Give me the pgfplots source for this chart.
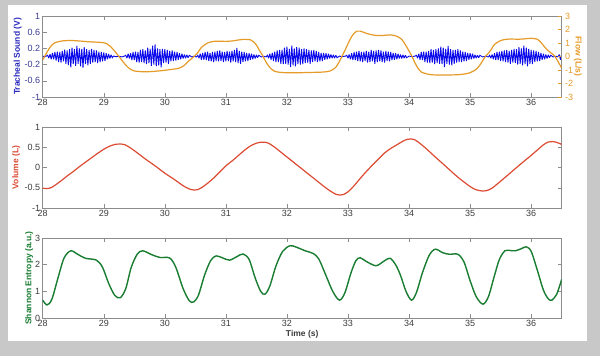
\documentclass[border=0pt]{standalone}
\usepackage{pgfplots}
\pgfplotsset{compat=1.18}
\usepackage{fontspec}
\setmainfont{Liberation Sans}
\definecolor{bggray}{RGB}{200,200,200}
\definecolor{axisgray}{RGB}{140,140,140}
\definecolor{ticktext}{RGB}{60,60,60}
\definecolor{soundblue}{RGB}{10,10,235}
\definecolor{soundlab}{RGB}{40,40,190}
\definecolor{soundtick}{RGB}{60,60,150}
\definecolor{flowc}{RGB}{230,155,40}
\definecolor{volc}{RGB}{220,75,50}
\definecolor{entc}{RGB}{25,125,50}
\pgfplotsset{
  mystyle/.style={
    scale only axis, width=519pt, height=81pt,
    xmin=28, xmax=36.5,
    xtick={28,29,30,31,32,33,34,35,36},
    xticklabels={28,29,30,31,32,33,34,35,36},
    tick align=inside, major tick length=4pt,
    xtick pos=both,
    axis line style={draw=axisgray, line width=0.5pt},
    every tick/.style={draw=axisgray, line width=0.5pt},
    tick label style={font=\fontsize{9}{10}\selectfont, text=ticktext},
    xticklabel style={yshift=1.5pt},
    yticklabel style={xshift=1pt},
    ylabel style={font=\bfseries\fontsize{8.5}{10}\selectfont, anchor=center},
    /pgf/number format/assume math mode=true,
  }
}
\begin{document}
\begin{tikzpicture}
\path[use as bounding box] (0,0) rectangle (600pt,-356pt);
\fill[bggray] (0,0) rectangle (600pt,-356pt);
\fill[white] (8pt,-5pt) rectangle (587pt,-341pt);

% ---------------- Panel 1: tracheal sound (left)
\begin{axis}[mystyle, at={(42.7pt,-97pt)}, anchor=south west,
  ymin=-1, ymax=1,
  ytick={-1,-0.6,-0.2,0.2,0.6,1},
  yticklabels={-1,-0.6,-0.2,0.2,0.6,1},
  ytick pos=left,
  yticklabel style={text=soundtick},
  ylabel={Tracheal Sound (V)},
  ylabel style={at={(axis description cs:-0.048,0.5)}, text=soundlab},
]
\addplot[color=soundblue, line width=0.9pt, line join=miter, miter limit=2] coordinates {
(28.00,0.01)(28.03,-0.01)(28.06,0.01)
(28.08,0.03)(28.10,-0.04)(28.12,0.06)(28.14,-0.07)(28.16,0.09)(28.18,-0.07)(28.20,0.11)(28.22,-0.1)(28.24,0.12)(28.26,-0.14)(28.28,0.11)(28.30,-0.15)(28.32,0.14)(28.34,-0.12)(28.36,0.17)(28.38,-0.18)(28.40,0.15)(28.42,-0.21)(28.44,0.18)(28.46,-0.27)(28.48,0.22)(28.50,-0.19)(28.52,0.18)(28.54,-0.23)(28.56,0.26)(28.58,-0.18)(28.60,0.2)(28.62,-0.24)(28.64,0.19)(28.66,-0.28)(28.68,0.23)(28.70,-0.19)(28.72,0.18)(28.74,-0.22)(28.76,0.16)(28.78,-0.18)(28.80,0.19)(28.82,-0.15)(28.84,0.16)(28.86,-0.14)(28.88,0.15)(28.90,-0.16)(28.92,0.12)(28.94,-0.14)(28.96,0.11)(28.98,-0.12)(29.00,0.1)(29.02,-0.11)(29.04,0.08)(29.06,-0.07)(29.08,0.06)(29.10,-0.05)(29.12,0.04)(29.14,-0.03)
(29.16,0.01)(29.20,-0.005)(29.25,0.005)(29.30,-0.01)(29.34,0.01)
(29.36,0.03)(29.38,-0.04)(29.40,0.07)(29.42,-0.05)(29.44,0.08)(29.46,-0.09)(29.48,0.11)(29.50,-0.09)(29.52,0.12)(29.54,-0.14)(29.56,0.11)(29.58,-0.15)(29.60,0.16)(29.62,-0.14)(29.64,0.18)(29.66,-0.16)(29.68,0.15)(29.70,-0.19)(29.72,0.22)(29.74,-0.16)(29.76,0.19)(29.78,-0.23)(29.80,0.27)(29.82,-0.2)(29.84,0.3)(29.86,-0.24)(29.88,0.2)(29.90,-0.22)(29.92,0.18)(29.94,-0.27)(29.96,0.19)(29.98,-0.16)(30.00,0.18)(30.02,-0.15)(30.04,0.16)(30.06,-0.18)(30.08,0.14)(30.10,-0.12)(30.12,0.15)(30.14,-0.11)(30.16,0.12)(30.18,-0.1)(30.20,0.11)(30.22,-0.08)(30.24,0.08)(30.26,-0.07)(30.28,0.07)(30.30,-0.05)(30.32,0.05)(30.34,-0.04)(30.36,0.04)(30.38,-0.03)(30.40,0.03)
(30.44,-0.01)(30.48,0.005)(30.52,-0.01)
(30.54,0.03)(30.56,-0.04)(30.58,0.07)(30.60,-0.08)(30.62,0.09)(30.64,-0.08)(30.66,0.11)(30.68,-0.09)(30.70,0.12)(30.72,-0.11)(30.74,0.09)(30.76,-0.12)(30.78,0.11)(30.80,-0.14)(30.82,0.12)(30.84,-0.11)(30.86,0.14)(30.88,-0.12)(30.90,0.15)(30.92,-0.11)(30.94,0.12)(30.96,-0.14)(30.98,0.11)(31.00,-0.12)(31.02,0.14)(31.04,-0.11)(31.06,0.12)(31.08,-0.15)(31.10,0.14)(31.12,-0.12)(31.14,0.16)(31.16,-0.14)(31.18,0.21)(31.20,-0.16)(31.22,0.14)(31.24,-0.18)(31.26,0.12)(31.28,-0.14)(31.30,0.11)(31.32,-0.12)(31.34,0.09)(31.36,-0.11)(31.38,0.08)(31.40,-0.08)(31.42,0.07)(31.44,-0.07)(31.46,0.05)(31.48,-0.05)(31.50,0.04)(31.52,-0.03)(31.54,0.03)
(31.58,-0.01)(31.62,0.005)(31.66,-0.01)
(31.68,0.03)(31.70,-0.04)(31.72,0.07)(31.74,-0.08)(31.76,0.09)(31.78,-0.11)(31.80,0.12)(31.82,-0.14)(31.84,0.15)(31.86,-0.14)(31.88,0.16)(31.90,-0.18)(31.92,0.16)(31.94,-0.19)(31.96,0.22)(31.98,-0.18)(32.00,0.24)(32.02,-0.2)(32.04,0.19)(32.06,-0.26)(32.08,0.27)(32.10,-0.22)(32.12,0.2)(32.14,-0.24)(32.16,0.23)(32.18,-0.19)(32.20,0.22)(32.22,-0.2)(32.24,0.18)(32.26,-0.19)(32.28,0.2)(32.30,-0.16)(32.32,0.18)(32.34,-0.15)(32.36,0.16)(32.38,-0.18)(32.40,0.15)(32.42,-0.14)(32.44,0.16)(32.46,-0.12)(32.48,0.14)(32.50,-0.14)(32.52,0.11)(32.54,-0.12)(32.56,0.09)(32.58,-0.11)(32.60,0.09)(32.62,-0.08)(32.64,0.08)(32.66,-0.07)(32.68,0.07)(32.70,-0.05)(32.72,0.05)(32.74,-0.04)(32.76,0.04)(32.78,-0.04)(32.80,0.03)(32.82,-0.03)
(32.86,0.01)(32.90,-0.005)(32.96,0.01)
(32.98,0.03)(33.00,-0.04)(33.02,0.05)(33.04,-0.07)(33.06,0.08)(33.08,-0.09)(33.10,0.11)(33.12,-0.09)(33.14,0.12)(33.16,-0.11)(33.18,0.14)(33.20,-0.12)(33.22,0.11)(33.24,-0.14)(33.26,0.12)(33.28,-0.11)(33.30,0.14)(33.32,-0.15)(33.34,0.12)(33.36,-0.14)(33.38,0.16)(33.40,-0.12)(33.42,0.14)(33.44,-0.18)(33.46,0.15)(33.48,-0.14)(33.50,0.16)(33.52,-0.12)(33.54,0.15)(33.56,-0.14)(33.58,0.12)(33.60,-0.15)(33.62,0.14)(33.64,-0.11)(33.66,0.12)(33.68,-0.12)(33.70,0.11)(33.72,-0.09)(33.74,0.09)(33.76,-0.08)(33.78,0.08)(33.80,-0.07)(33.82,0.07)(33.84,-0.05)(33.86,0.05)(33.88,-0.05)(33.90,0.04)(33.92,-0.04)(33.94,0.03)(33.96,-0.03)
(34.00,0.01)(34.05,-0.005)(34.10,0.01)
(34.12,0.03)(34.14,-0.04)(34.16,0.07)(34.18,-0.08)(34.20,0.11)(34.22,-0.09)(34.24,0.12)(34.26,-0.14)(34.28,0.12)(34.30,-0.15)(34.32,0.14)(34.34,-0.16)(34.36,0.18)(34.38,-0.15)(34.40,0.16)(34.42,-0.19)(34.44,0.18)(34.46,-0.16)(34.48,0.2)(34.50,-0.18)(34.52,0.24)(34.54,-0.19)(34.56,0.22)(34.58,-0.26)(34.60,0.19)(34.62,-0.18)(34.64,0.26)(34.66,-0.2)(34.68,0.18)(34.70,-0.22)(34.72,0.16)(34.74,-0.18)(34.76,0.16)(34.78,-0.15)(34.80,0.18)(34.82,-0.14)(34.84,0.15)(34.86,-0.14)(34.88,0.12)(34.90,-0.12)(34.92,0.11)(34.94,-0.11)(34.96,0.09)(34.98,-0.08)(35.00,0.08)(35.02,-0.07)(35.04,0.07)(35.06,-0.05)(35.08,0.04)(35.10,-0.04)(35.12,0.03)(35.14,-0.03)(35.16,0.03)
(35.20,-0.01)(35.25,0.005)(35.30,-0.01)
(35.32,0.03)(35.34,-0.04)(35.36,0.05)(35.38,-0.07)(35.40,0.08)(35.42,-0.09)(35.44,0.11)(35.46,-0.09)(35.48,0.12)(35.50,-0.11)(35.52,0.14)(35.54,-0.12)(35.56,0.15)(35.58,-0.14)(35.60,0.16)(35.62,-0.15)(35.64,0.14)(35.66,-0.18)(35.68,0.16)(35.70,-0.15)(35.72,0.19)(35.74,-0.16)(35.76,0.18)(35.78,-0.2)(35.80,0.23)(35.82,-0.18)(35.84,0.2)(35.86,-0.22)(35.88,0.27)(35.90,-0.19)(35.92,0.22)(35.94,-0.24)(35.96,0.19)(35.98,-0.18)(36.00,0.16)(36.02,-0.19)(36.04,0.15)(36.06,-0.14)(36.08,0.14)(36.10,-0.12)(36.12,0.11)(36.14,-0.11)(36.16,0.09)(36.18,-0.08)(36.20,0.07)(36.22,-0.07)(36.24,0.05)(36.26,-0.05)(36.28,0.04)(36.30,-0.03)(36.32,0.03)
(36.36,-0.01)(36.40,0.005)(36.44,-0.01)
(36.46,0.05)(36.48,-0.08)(36.50,0.06)
};
\end{axis}

% ---------------- Panel 1: flow (right)
\begin{axis}[mystyle, at={(42.7pt,-97pt)}, anchor=south west,
  hide x axis,
  ymin=-3, ymax=3,
  ytick={-3,-2,-1,0,1,2,3},
  yticklabels={-3,-2,-1,0,1,2,3},
  ytick pos=right, yticklabel pos=right,
  yticklabel style={text=flowc, xshift=-1pt},
  y tick style={draw=flowc},
  ylabel={Flow (L/s)},
  ylabel style={at={(axis description cs:1.031,0.5)}, rotate=180, text=flowc},
]
\addplot[color=flowc, line width=1.2pt, smooth] coordinates {
(28.00,-0.25)(28.05,0.15)(28.10,0.55)(28.15,0.85)(28.20,1.02)(28.30,1.14)(28.40,1.18)(28.50,1.18)(28.60,1.15)(28.70,1.11)(28.80,1.08)(28.90,1.06)(29.00,1.02)(29.05,0.95)(29.10,0.78)(29.15,0.55)(29.20,0.28)(29.25,0.0)(29.30,-0.3)(29.35,-0.58)(29.40,-0.82)(29.45,-0.98)(29.50,-1.07)(29.60,-1.12)(29.70,-1.13)(29.80,-1.11)(29.90,-1.07)(30.00,-1.02)(30.10,-0.96)(30.20,-0.9)(30.25,-0.84)(30.30,-0.72)(30.35,-0.52)(30.40,-0.3)(30.48,0.0)
(30.55,0.35)(30.60,0.68)(30.70,1.0)(30.80,1.12)(30.90,1.13)(31.00,1.12)(31.10,1.15)(31.20,1.22)(31.30,1.27)(31.40,1.24)(31.45,1.1)(31.50,0.85)(31.55,0.45)(31.61,0.0)(31.65,-0.35)(31.70,-0.7)(31.75,-0.95)(31.80,-1.1)(31.90,-1.18)(32.00,-1.2)(32.20,-1.2)(32.40,-1.18)(32.60,-1.15)(32.70,-1.08)(32.75,-0.98)(32.80,-0.8)(32.85,-0.45)(32.90,0.0)
(32.95,0.45)(33.00,0.95)(33.05,1.4)(33.10,1.72)(33.15,1.88)(33.20,1.88)(33.30,1.72)(33.40,1.6)(33.50,1.55)(33.60,1.57)(33.70,1.6)(33.80,1.5)(33.88,1.27)(33.95,0.8)(34.00,0.4)(34.05,0.0)
(34.10,-0.5)(34.15,-0.9)(34.20,-1.15)(34.30,-1.3)(34.40,-1.36)(34.60,-1.37)(34.80,-1.35)(34.90,-1.3)(35.00,-1.2)(35.10,-0.95)(35.15,-0.7)(35.20,-0.35)(35.25,0.0)
(35.30,0.25)(35.35,0.55)(35.40,0.9)(35.50,1.18)(35.60,1.28)(35.70,1.29)(35.80,1.28)(35.90,1.31)(36.00,1.35)(36.10,1.28)(36.15,1.1)(36.20,0.82)(36.25,0.55)(36.30,0.35)(36.35,0.18)(36.39,0.0)(36.45,-0.45)(36.50,-0.88)
};
\end{axis}

% ---------------- Panel 2: volume
\begin{axis}[mystyle, at={(42.7pt,-208pt)}, anchor=south west,
  ymin=-1, ymax=1,
  ytick={-1,-0.5,0,0.5,1},
  yticklabels={-1,-0.5,0,0.5,1},
  ytick pos=both,
  ylabel={Volume (L)},
  ylabel style={at={(axis description cs:-0.051,0.5)}, text=volc},
]
\addplot[color=volc, line width=1.2pt, smooth] coordinates {
(28.00,-0.51)(28.05,-0.52)(28.10,-0.515)(28.15,-0.49)(28.20,-0.44)(28.30,-0.33)(28.40,-0.21)(28.50,-0.1)(28.60,0.02)(28.70,0.13)(28.80,0.24)(28.90,0.35)(29.00,0.45)(29.10,0.53)(29.20,0.575)(29.27,0.58)(29.35,0.56)(29.45,0.47)(29.55,0.36)(29.70,0.19)(29.85,0.03)(30.00,-0.14)(30.15,-0.29)(30.30,-0.45)(30.40,-0.53)(30.48,-0.556)(30.55,-0.54)
(30.60,-0.5)(30.70,-0.39)(30.80,-0.26)(30.90,-0.11)(31.00,0.04)(31.10,0.16)(31.20,0.29)(31.30,0.42)(31.40,0.53)(31.50,0.6)(31.58,0.625)(31.64,0.625)(31.70,0.6)(31.80,0.5)(31.90,0.38)(32.00,0.26)(32.20,0.02)(32.40,-0.22)(32.60,-0.46)(32.70,-0.57)(32.80,-0.66)(32.86,-0.68)(32.92,-0.67)(33.00,-0.6)(33.10,-0.45)(33.20,-0.27)(33.30,-0.1)(33.40,0.06)(33.50,0.21)(33.60,0.36)(33.70,0.47)(33.80,0.56)(33.90,0.65)(33.97,0.695)(34.03,0.705)(34.10,0.68)(34.20,0.57)(34.30,0.44)(34.40,0.3)(34.60,0.03)(34.80,-0.24)(35.00,-0.47)(35.10,-0.55)(35.20,-0.58)(35.26,-0.575)(35.35,-0.52)(35.45,-0.4)(35.60,-0.21)(35.80,0.05)(36.00,0.3)(36.10,0.43)(36.20,0.56)(36.28,0.63)(36.35,0.64)(36.42,0.62)(36.50,0.57)
};
\end{axis}

% ---------------- Panel 3: Shannon entropy
\begin{axis}[mystyle, at={(42.7pt,-318pt)}, anchor=south west,
  height=80pt,
  ymin=0, ymax=3,
  ytick={0,1,2,3},
  yticklabels={0,1,2,3},
  ytick pos=both,
  ylabel={Shannon Entropy (a.u.)},
  ylabel style={at={(axis description cs:-0.026,0.5)}, text=entc},
  xlabel={Time (s)},
  xlabel style={font=\bfseries\fontsize{8.5}{10}\selectfont, text=ticktext, at={(axis description cs:0.5,-0.2)}, anchor=center},
]
\addplot[color=entc, line width=1.4pt, smooth] coordinates {
(28.00,0.67)(28.07,0.49)(28.15,0.7)(28.25,1.5)(28.35,2.25)(28.46,2.52)(28.58,2.38)(28.70,2.24)(28.88,2.17)(28.98,1.9)(29.08,1.3)(29.18,0.85)(29.27,0.76)(29.36,1.1)(29.45,1.9)(29.55,2.4)(29.64,2.52)(29.78,2.38)(29.92,2.27)(30.08,2.25)(30.18,1.9)(30.30,1.1)(30.40,0.65)(30.47,0.6)(30.55,0.85)(30.65,1.6)(30.75,2.15)(30.84,2.33)(30.95,2.25)(31.06,2.17)(31.18,2.3)(31.28,2.4)(31.38,2.2)(31.48,1.5)(31.57,1.0)(31.64,0.89)(31.72,1.2)(31.82,1.95)(31.93,2.5)(32.05,2.71)(32.15,2.66)(32.30,2.52)(32.43,2.42)(32.52,2.22)(32.62,1.7)(32.75,1.0)(32.86,0.67)(32.95,0.95)(33.05,1.7)(33.13,2.15)(33.20,2.26)(33.30,2.12)(33.46,1.96)(33.60,2.15)(33.69,2.24)(33.78,2.0)(33.86,1.6)(33.95,1.0)(34.04,0.67)(34.12,0.95)(34.22,1.7)(34.33,2.35)(34.43,2.58)(34.55,2.45)(34.66,2.39)(34.80,2.39)(34.90,2.1)(35.00,1.4)(35.10,0.8)(35.21,0.52)(35.30,0.8)(35.40,1.6)(35.48,2.2)(35.57,2.52)(35.66,2.53)(35.74,2.52)(35.84,2.6)(35.92,2.67)(36.00,2.5)(36.10,1.8)(36.20,1.05)(36.28,0.72)(36.34,0.67)(36.42,0.9)(36.50,1.45)
};
\end{axis}
\end{tikzpicture}
\end{document}
